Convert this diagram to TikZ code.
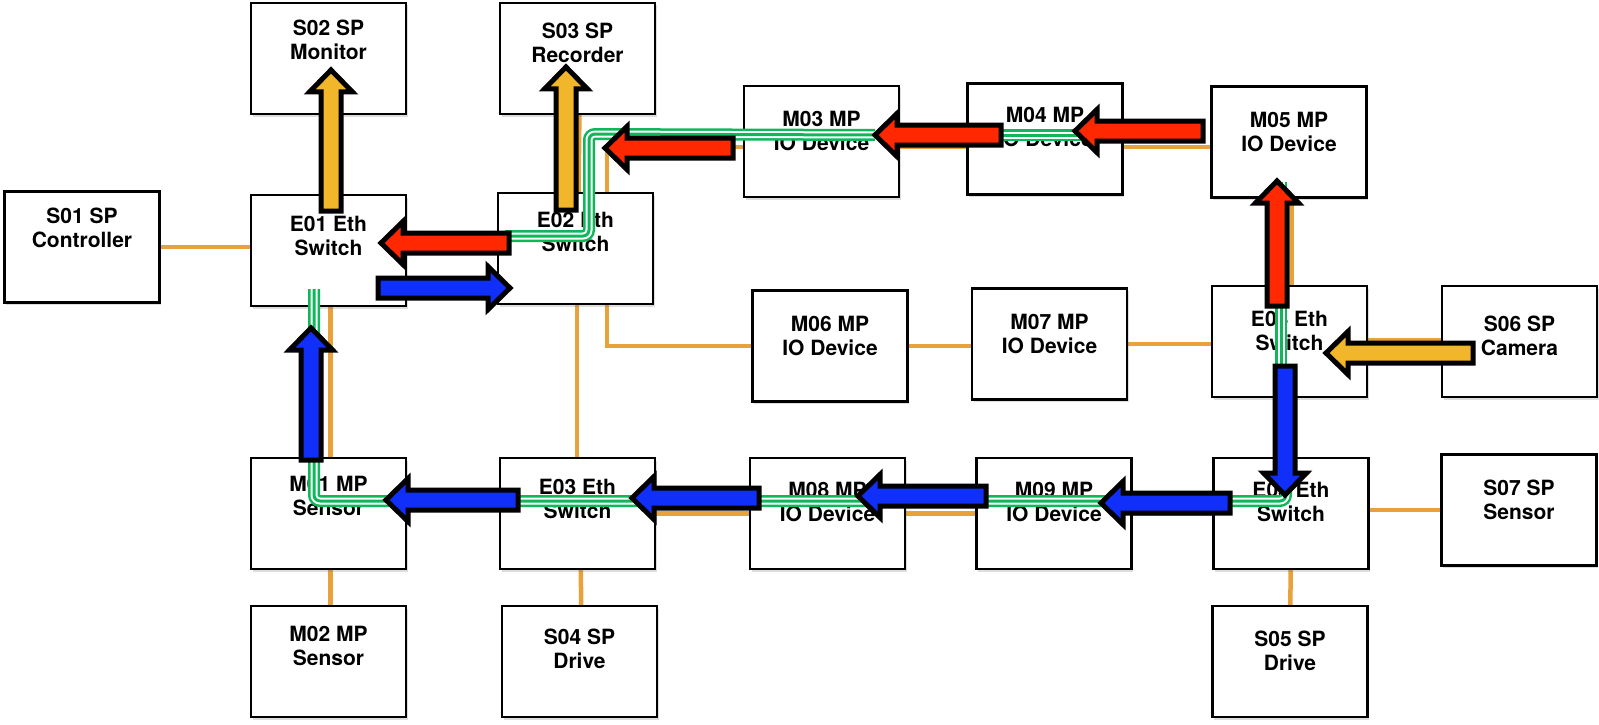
\documentclass[tikz,border=0pt]{standalone}
\usepackage{fontspec}
\setmainfont{TeX Gyre Heros}
\usetikzlibrary{calc,shadows}
\definecolor{linkor}{RGB}{233,162,59}
\definecolor{gcol}{RGB}{16,182,90}
\definecolor{ared}{RGB}{255,40,0}
\definecolor{ablue}{RGB}{16,48,250}
\definecolor{ayel}{RGB}{242,182,42}
% #1 tail coordinate, #2 tip coordinate, #3 fill colour
\newcommand{\blockarrow}[3]{%
  \coordinate (#2-hb) at ($(#2)!22pt!(#1)$);
  \filldraw[fill=#3, draw=black, line width=5pt, line join=miter]
    ($(#1)!10pt!90:(#2)$) -- ($(#2-hb)!10pt!90:(#2)$) -- ($(#2-hb)!21.5pt!90:(#2)$)
    -- (#2) -- ($(#2-hb)!21.5pt!-90:(#2)$) -- ($(#2-hb)!10pt!-90:(#2)$)
    -- ($(#1)!10pt!-90:(#2)$) -- cycle;
}
\tikzset{
  box/.style={draw=black, line width=2.2pt, fill=white, minimum width=155pt,
    minimum height=111pt, inner sep=0pt,
    drop shadow={shadow xshift=1.5pt, shadow yshift=-2.5pt, opacity=0.22, fill=black!60}},
  lbl/.style={anchor=north, align=center, inner sep=0pt,
    font=\fontsize{21}{24}\selectfont\bfseries},
  link/.style={draw=linkor, line width=4.5pt},
  gpath/.style={draw=gcol, line width=12pt, rounded corners=6pt,
    postaction={draw=white, line width=7pt},
    postaction={draw=gcol, line width=3pt}},
}
\begin{document}
\begin{tikzpicture}[x=1pt, y=-1pt]
\fill[white] (0,0) rectangle (1599,725);
\useasboundingbox (0,0) rectangle (1599,725);

% box centres
\coordinate (s01c) at (82,247);
\coordinate (s02c) at (328.5,58.5);
\coordinate (s03c) at (577.5,58.5);
\coordinate (e01c) at (328.5,250.5);
\coordinate (e02c) at (575.5,248.5);
\coordinate (m03c) at (821.5,141.5);
\coordinate (m04c) at (1045,139);
\coordinate (m05c) at (1289,142);
\coordinate (m06c) at (830,346);
\coordinate (m07c) at (1049.5,344);
\coordinate (e04c) at (1289.5,341.5);
\coordinate (s06c) at (1519.5,341.5);
\coordinate (m01c) at (328.5,513.5);
\coordinate (e03c) at (577.5,513.5);
\coordinate (m08c) at (827.5,513.5);
\coordinate (m09c) at (1054,513.5);
\coordinate (e05c) at (1291,513.5);
\coordinate (s07c) at (1519,510);
\coordinate (m02c) at (328.5,661.5);
\coordinate (s04c) at (579.5,661.5);
\coordinate (s05c) at (1290,661.5);

% orange links (under the boxes)
\draw[link] (s01c) -- (s01c -| e01c);
\draw[link] ([xshift=2pt]s02c) -- ([xshift=2pt]m02c);
\draw[link] ([xshift=2.5pt]s03c) -- ([xshift=2.5pt]e02c);
\draw[link] ([xshift=1.5pt]e02c) -- ([xshift=1.5pt]e02c |- e03c);
\draw[link] ([xshift=2.5pt]e03c) -- ([xshift=2.5pt]s04c);
\draw[link] ([xshift=31.5pt]e02c) |- ([yshift=-5.5pt]m03c);
\draw[link] ([yshift=-5.5pt]m03c) -- ([yshift=-5.5pt]m03c -| m05c);
\draw[link] ([xshift=3pt]m05c) -- ([xshift=3pt]m05c |- e05c);
\draw[link] ([xshift=31.5pt]e02c) |- (m06c);
\draw[link] (m06c) -- (m06c -| m07c);
\draw[link] (m07c) -- (m07c -| e04c);
\draw[link] ([yshift=1.5pt]e04c) -- ([yshift=1.5pt]s06c);
\draw[link] (e03c) -- (e03c -| e05c);
\draw[link] (s07c) -- (s07c -| e05c);
\draw[link] (e05c) -- (s05c);

% boxes
\foreach \n in {s01,s02,s03,e01,e02,m03,m04,m05,m06,m07,e04,s06,m01,e03,m08,m09,e05,s07,m02,s04,s05}
  \node[box] (\n) at (\n c) {};

% labels
\node[lbl] (s01t) at ([yshift=-17pt]s01.north) {S01 SP\\Controller};
\node[lbl] (s02t) at ([yshift=-18pt]s02.north) {S02 SP\\Monitor};
\node[lbl] (s03t) at ([yshift=-21pt]s03.north) {S03 SP\\Recorder};
\node[lbl] (e01t) at ([yshift=-22pt]e01.north) {E01 Eth\\Switch};
\node[lbl] (e02t) at ([yshift=-20pt]e02.north) {E02 Eth\\Switch};
\node[lbl] (m03t) at ([yshift=-26pt]m03.north) {M03 MP\\IO Device};
\node[lbl] (m04t) at ([yshift=-25pt]m04.north) {M04 MP\\IO Device};
\node[lbl] (m05t) at ([yshift=-27pt]m05.north) {M05 MP\\IO Device};
\node[lbl] (m06t) at ([yshift=-27pt]m06.north) {M06 MP\\IO Device};
\node[lbl] (m07t) at ([yshift=-27pt]m07.north) {M07 MP\\IO Device};
\node[lbl] (e04t) at ([yshift=-26pt]e04.north) {E04 Eth\\Switch};
\node[lbl] (s06t) at ([yshift=-31pt]s06.north) {S06 SP\\Camera};
\node[lbl] (m01t) at ([yshift=-19pt]m01.north) {M01 MP\\Sensor};
\node[lbl] (e03t) at ([yshift=-22pt]e03.north) {E03 Eth\\Switch};
\node[lbl] (m08t) at ([yshift=-25pt]m08.north) {M08 MP\\IO Device};
\node[lbl] (m09t) at ([yshift=-25pt]m09.north) {M09 MP\\IO Device};
\node[lbl] (e05t) at ([yshift=-25pt]e05.north) {E05 Eth\\Switch};
\node[lbl] (s07t) at ([yshift=-26pt]s07.north) {S07 SP\\Sensor};
\node[lbl] (m02t) at ([yshift=-21pt]m02.north) {M02 MP\\Sensor};
\node[lbl] (s04t) at ([yshift=-24pt]s04.north) {S04 SP\\Drive};
\node[lbl] (s05t) at ([yshift=-26pt]s05.north) {S05 SP\\Drive};

% arrow end points
\coordinate (a1t) at (331,211);  \coordinate (a1h) at (331,70);
\coordinate (a2t) at (566,210);  \coordinate (a2h) at (566,67);
\coordinate (a3t) at (733,148);  \coordinate (a3h) at (605,148);
\coordinate (a4t) at (1001,135); \coordinate (a4h) at (875,135);
\coordinate (a5t) at (1203,131); \coordinate (a5h) at (1075,131);
\coordinate (a6t) at (1277,306); \coordinate (a6h) at (1277,181);
\coordinate (a7t) at (509,243);  \coordinate (a7h) at (381,243);
\coordinate (a8t) at (378,288);  \coordinate (a8h) at (510,288);
\coordinate (a9t) at (311,460);  \coordinate (a9h) at (311,328);
\coordinate (a10t) at (518,500); \coordinate (a10h) at (386,500);
\coordinate (a11t) at (759,498); \coordinate (a11h) at (632,498);
\coordinate (a12t) at (986,496); \coordinate (a12h) at (858,496);
\coordinate (a13t) at (1230,503); \coordinate (a13h) at (1101,503);
\coordinate (a14t) at (1285,366); \coordinate (a14h) at (1285,495);
\coordinate (a15t) at (1473,353); \coordinate (a15h) at (1326,353);

% green traffic path
\draw[gpath] (1281,182) -- (1281,368);
\draw[gpath] (995,135) -- (1205,135);
\draw[gpath] (a4h) -- (589,134) -- (589,236) -- (505,236);
\draw[gpath] (1286,472) -- (1286,501) -- (314,501) -- (314,289);

% block arrows
\blockarrow{a1t}{a1h}{ayel}
\blockarrow{a2t}{a2h}{ayel}
\blockarrow{a3t}{a3h}{ared}
\blockarrow{a4t}{a4h}{ared}
\blockarrow{a5t}{a5h}{ared}
\blockarrow{a6t}{a6h}{ared}
\blockarrow{a7t}{a7h}{ared}
\blockarrow{a8t}{a8h}{ablue}
\blockarrow{a9t}{a9h}{ablue}
\blockarrow{a10t}{a10h}{ablue}
\blockarrow{a11t}{a11h}{ablue}
\blockarrow{a12t}{a12h}{ablue}
\blockarrow{a13t}{a13h}{ablue}
\blockarrow{a14t}{a14h}{ablue}
\blockarrow{a15t}{a15h}{ayel}
\end{tikzpicture}
\end{document}
